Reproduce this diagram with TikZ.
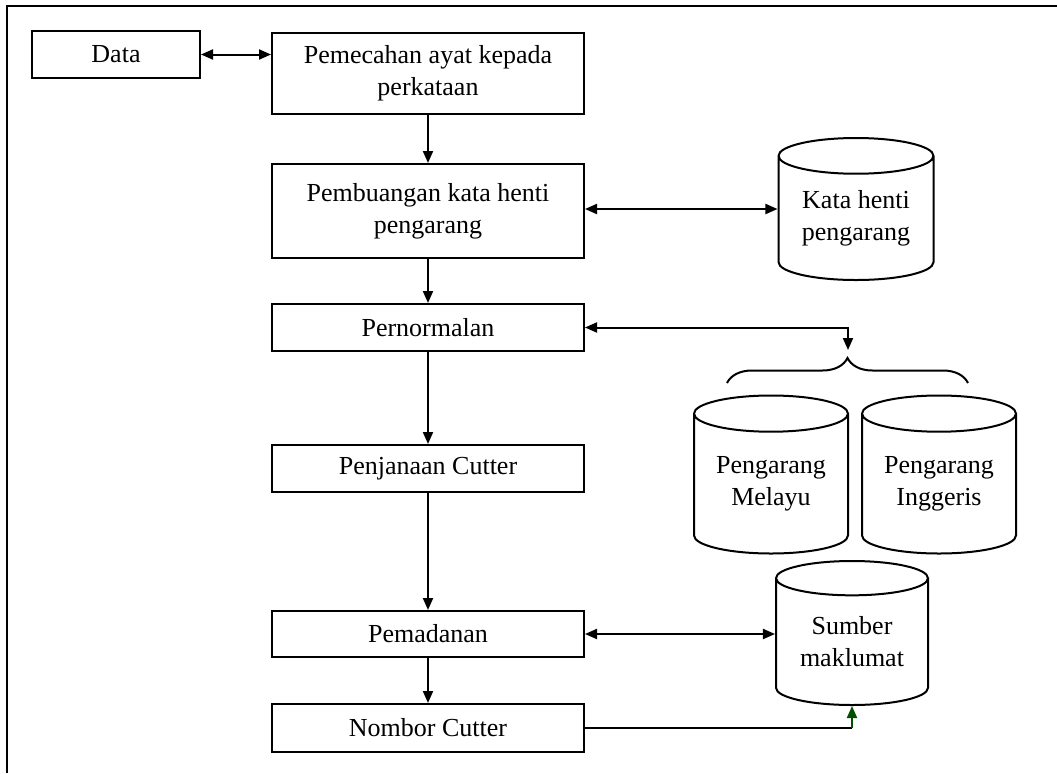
\documentclass[tikz,border=0pt]{standalone}
\usepackage{fontspec}
\setmainfont{Liberation Serif}
\usetikzlibrary{arrows.meta,shapes.geometric,decorations.pathreplacing}
\definecolor{arrowgreen}{RGB}{0,80,0}

\begin{document}
\begin{tikzpicture}[x=0.5pt,y=-0.5pt]
  \tikzstyle{every node}+=[inner sep=0pt,font=\fontsize{13}{16}\selectfont,align=center]
  \tikzstyle{stepbox}=[draw,line width=1pt,minimum width=156pt]
  \tikzstyle{store}=[draw,line width=1pt,cylinder,shape border rotate=90,aspect=0.33,anchor=shape center]
  \tikzstyle{link}=[line width=1pt,-{Triangle[length=6pt,width=5pt]}]
  \tikzstyle{dlink}=[line width=1pt,{Triangle[length=6pt,width=5pt]}-{Triangle[length=6pt,width=5pt]}]
  \useasboundingbox (0,0) rectangle (1057,773);
  \draw [line width=1pt] (1057,6) -- (7,6) -- (7,773);
  % langkah-langkah
  \node [stepbox,minimum width=84pt,minimum height=23.5pt] (data) at (116,54.5) {Data};
  \node [stepbox,minimum height=40.5pt] (pecah) at (428,73) {Pemecahan ayat kepada\\perkataan};
  \node [stepbox,minimum height=47pt] (buang) at (428,211) {Pembuangan kata henti\\pengarang};
  \node [stepbox,minimum height=23.5pt] (normal) at (428,327.5) {Pernormalan};
  \node [stepbox,minimum height=23.5pt] (jana) at (428,468.5) {Penjanaan Cutter};
  \node [stepbox,minimum height=23pt] (padan) at (428,634) {Pemadanan};
  \node [stepbox,minimum height=24pt] (nombor) at (428,728) {Nombor Cutter};
  % pangkalan data
  \node [store,minimum width=77.5pt,minimum height=71pt] (henti) at (856,209) {Kata henti\\pengarang};
  \node [store,minimum width=77pt,minimum height=79pt] (melayu) at (771,474.5) {Pengarang\\Melayu};
  \node [store,minimum width=77pt,minimum height=79pt] (inggeris) at (939,474.5) {Pengarang\\Inggeris};
  \node [store,minimum width=76pt,minimum height=72pt] (sumber) at (852,633) {Sumber\\maklumat};
  % kurungan
  \coordinate (braceL) at (727,383);
  \coordinate (braceR) at (968,383);
  \coordinate (bracetip) at (848,350);
  \draw [line width=1pt,decorate,decoration={brace,amplitude=12.5pt}] (braceL) -- (braceR);
  % anak panah
  \draw [dlink] (data.east) -- (data.east -| pecah.west);
  \draw [link] (pecah) -- (buang);
  \draw [dlink] (buang.east |- henti.shape center) -- (henti.west |- henti.shape center);
  \draw [link] (buang) -- (normal);
  \draw [dlink] (normal.east) -| (bracetip);
  \draw [link] (normal) -- (jana);
  \draw [link] (jana) -- (padan);
  \draw [dlink] (padan.east) -- (padan.east -| sumber.west);
  \draw [link] (padan) -- (nombor);
  \coordinate (turn) at (sumber.south |- nombor.east);
  \draw [line width=1pt] (nombor.east) -- (turn);
  \draw [link,arrowgreen] (turn) -- (sumber.south);
\end{tikzpicture}
\end{document}
